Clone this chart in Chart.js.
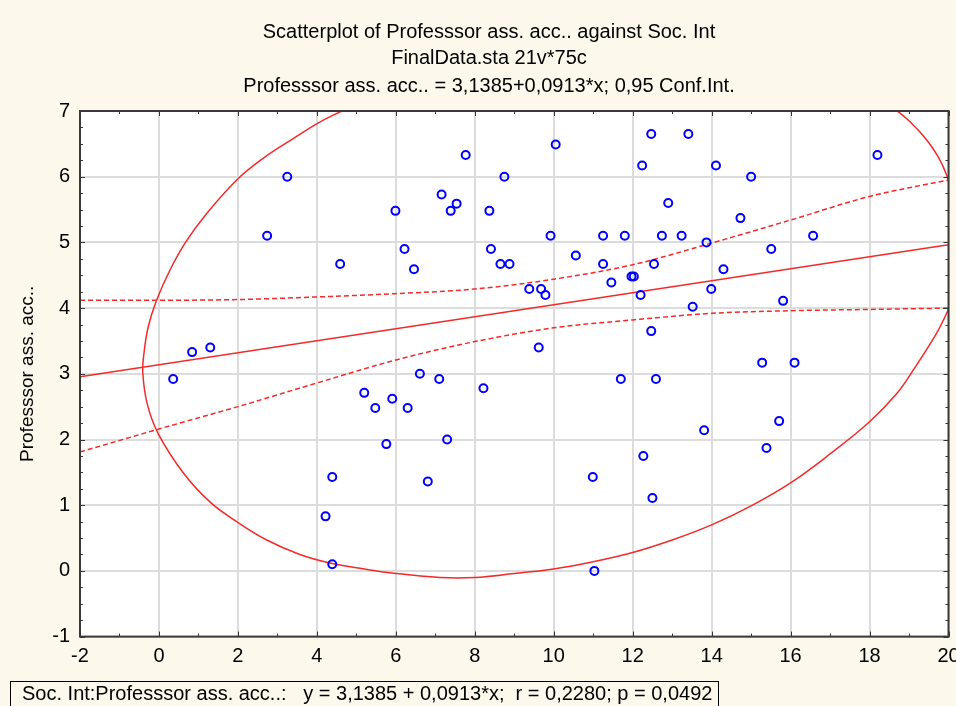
<!DOCTYPE html>
<html><head><meta charset="utf-8">
<script src="https://cdn.jsdelivr.net/npm/chart.js@4/dist/chart.umd.min.js"></script>
<style>html,body{margin:0;padding:0;background:#fdf8ec;overflow:hidden}#wrap{width:956px;height:706px;position:relative}</style>
</head><body><div id="wrap"><canvas id="c" width="956" height="706"></canvas></div>
<script>
// ---- Texts ----
const titleLines = [
  "Scatterplot of Professsor ass. acc.. against Soc. Int",
  "FinalData.sta 21v*75c",
  "Professsor ass. acc.. = 3,1385+0,0913*x; 0,95 Conf.Int."
];
const xAxisTitle = "Soc. Int";
const yAxisTitle = "Professsor ass. acc..";
const footerText = "Soc. Int:Professsor ass. acc..:   y = 3,1385 + 0,0913*x;  r = 0,2280; p = 0,0492";

// ---- Tick labels ----
const xTicks = [-2,0,2,4,6,8,10,12,14,16,18,20];
const yTicks = [-1,0,1,2,3,4,5,6,7];

// ---- Observations (Soc. Int, Professsor ass. acc..) ----
const socInt = [3.25,2.74,4.59,0.84,1.30,0.36,7.77,8.75,10.05,7.16,7.54,7.39,5.99,8.37,9.92,11.25,11.80,6.22,8.41,10.56,
  6.46,8.65,8.88,11.25,9.38,9.68,9.79,11.46,11.97,12.03,12.20,12.24,9.62,6.61,7.10,11.70,12.47,13.41,14.11,15.00,
  18.20,12.90,14.73,12.74,13.24,13.87,16.57,15.51,12.54,14.30,13.99,13.52,15.81,12.47,15.28,16.10,12.59,4.39,4.22,4.39,
  5.20,5.48,5.91,6.30,5.76,7.30,6.81,8.22,10.99,11.03,12.27,13.81,15.71,15.39,12.50];
const profAcc = [6.00,5.10,4.67,3.33,3.40,2.92,6.33,6.00,6.49,5.73,5.59,5.48,5.48,5.48,5.10,5.10,5.10,4.90,4.90,4.80,
  4.59,4.67,4.67,4.67,4.29,4.29,4.20,4.39,4.48,4.48,4.20,6.17,3.40,3.00,2.92,2.92,6.65,6.65,6.17,6.00,
  6.33,5.60,5.37,5.10,5.10,5.00,5.10,4.90,4.67,4.59,4.29,4.02,4.11,3.65,3.17,3.17,2.92,1.43,0.83,0.10,
  2.71,2.48,2.62,2.48,1.93,2.00,1.36,2.78,1.43,0.00,1.75,2.14,2.28,1.87,1.11];

// ---- Regression line (read at the x-axis ends) ----
const regX = [-2, 20];
const regY = [2.956, 4.965];

// ---- 0,95 confidence band ----
const bandX = [-2,0,2,4,6,8,10,12,14,16,18,20];
const bandUpper = [4.12,4.12,4.13,4.17,4.22,4.29,4.44,4.66,4.99,5.34,5.70,5.95];
const bandLower = [1.81,2.16,2.50,2.86,3.21,3.49,3.70,3.82,3.92,3.96,3.98,4.00];

// ---- Prediction ellipse, visible arcs ----
const ellipseAX = [5.20,4.63,4.04,3.40,2.64,1.97,1.21,0.66,0.28,-0.06,-0.27,-0.38,-0.41,-0.30,-0.02,0.62,1.29,1.97,2.73,3.57,4.33,5.09,6.00,7.12,8.00,9.00,10.00,11.00,12.00,13.00,14.00,15.00,16.00,17.00,18.00,18.69,19.11,19.70,19.99,20.20];
const ellipseAY = [7.17,7.00,6.82,6.58,6.28,5.95,5.44,4.99,4.58,4.12,3.72,3.31,3.02,2.55,2.09,1.49,1.05,0.75,0.47,0.25,0.12,0.04,-0.04,-0.10,-0.10,-0.04,0.03,0.14,0.28,0.47,0.70,0.99,1.34,1.78,2.27,2.70,3.06,3.62,3.97,4.30];
const ellipseBX = [18.26,18.64,19.02,19.45,19.74,19.95,20.10];
const ellipseBY = [7.20,7.03,6.84,6.56,6.30,6.03,5.75];

const pts = (xs, ys) => xs.map((x, i) => ({x: x, y: ys[i]}));
const RED = '#f22a2a';
const FONT = "'Liberation Sans', Arial, sans-serif";

const decorPlugin = {
  id: 'decor',
  beforeDraw(chart) {
    const {ctx, chartArea: a} = chart;
    ctx.save();
    ctx.fillStyle = '#fdf8ec';
    ctx.fillRect(0, 0, chart.width, chart.height);
    ctx.fillStyle = '#ffffff';
    ctx.fillRect(a.left, a.top, a.right - a.left, a.bottom - a.top);
    // titles
    ctx.fillStyle = '#000';
    ctx.font = "20px " + FONT;
    ctx.textAlign = 'center';
    ctx.textBaseline = 'middle';
    const ys = [32, 58.5, 86];
    titleLines.forEach((t, i) => ctx.fillText(t, 489, ys[i]));
    // footer box
    ctx.textAlign = 'left';
    ctx.fillText(footerText, 22, 694);
    ctx.strokeStyle = '#000';
    ctx.lineWidth = 1;
    ctx.strokeRect(10.5, 681.5, 708, 40);
    ctx.restore();
  },
  afterDraw(chart) {
    const {ctx, chartArea: a, scales} = chart;
    const xs = scales.x, ys = scales.y;
    ctx.save();
    ctx.strokeStyle = '#333';
    ctx.lineWidth = 1;
    ctx.beginPath();
    for (let v = xTicks[0]; v <= xTicks[xTicks.length - 1]; v += 1) {
      const px = Math.round(xs.getPixelForValue(v)) + 0.5;
      const len = (v % 2 === 0) ? 5 : 3;
      ctx.moveTo(px, a.bottom); ctx.lineTo(px, a.bottom - len);
      ctx.moveTo(px, a.top); ctx.lineTo(px, a.top + len);
    }
    for (let v = yTicks[0]; v <= yTicks[yTicks.length - 1] + 1e-9; v += 0.25) {
      const py = Math.round(ys.getPixelForValue(v)) + 0.5;
      const len = (Math.abs(v - Math.round(v)) < 1e-6) ? 5 : 3;
      ctx.moveTo(a.left, py); ctx.lineTo(a.left + len, py);
      ctx.moveTo(a.right, py); ctx.lineTo(a.right - len, py);
    }
    ctx.stroke();
    ctx.strokeStyle = '#3a3a3a';
    ctx.lineWidth = 2;
    ctx.strokeRect(a.left, a.top, a.right - a.left, a.bottom - a.top);
    ctx.restore();
  }
};

new Chart(document.getElementById('c'), {
  type: 'scatter',
  data: {
    datasets: [
      {label: 'obs', data: pts(socInt, profAcc), pointRadius: 4, pointHoverRadius: 4,
       borderColor: '#0000ff', backgroundColor: 'rgba(0,0,0,0)', borderWidth: 2, showLine: false},
      {label: 'reg', data: pts(regX, regY), showLine: true, pointRadius: 0, borderColor: RED, borderWidth: 1.5},
      {label: 'upper', data: pts(bandX, bandUpper), showLine: true, pointRadius: 0, borderColor: RED, borderWidth: 1.5,
       borderDash: [5, 3], cubicInterpolationMode: 'monotone'},
      {label: 'lower', data: pts(bandX, bandLower), showLine: true, pointRadius: 0, borderColor: RED, borderWidth: 1.5,
       borderDash: [5, 3], cubicInterpolationMode: 'monotone'},
      {label: 'ellA', data: pts(ellipseAX, ellipseAY), showLine: true, pointRadius: 0, borderColor: RED, borderWidth: 1.5, tension: 0.4},
      {label: 'ellB', data: pts(ellipseBX, ellipseBY), showLine: true, pointRadius: 0, borderColor: RED, borderWidth: 1.5, tension: 0.4}
    ]
  },
  options: {
    responsive: false,
    animation: false,
    layout: {padding: {left: 0, right: 7.5, top: 111, bottom: 0}},
    plugins: {legend: {display: false}, tooltip: {enabled: false}, title: {display: false}},
    scales: {
      x: {
        type: 'linear', min: -2, max: 20,
        afterBuildTicks: s => { s.ticks = xTicks.map(v => ({value: v})); },
        afterFit: s => { s.height = 69.4; s.paddingLeft = 0; s.paddingRight = 0; },
        grid: {color: '#dcdcdc', lineWidth: 2, drawTicks: false},
        border: {display: false},
        ticks: {color: '#000', padding: 7.5, font: {family: FONT, size: 20}, maxRotation: 0, autoSkip: false}
      },
      y: {
        type: 'linear', min: -1, max: 7,
        afterBuildTicks: s => { s.ticks = yTicks.map(v => ({value: v})); },
        afterFit: s => { s.width = 80; s.paddingTop = 0; s.paddingBottom = 0; },
        grid: {color: '#dcdcdc', lineWidth: 2, drawTicks: false},
        border: {display: false},
        title: {display: true, text: yAxisTitle, color: '#000', font: {family: FONT, size: 19}, padding: {top: 16, bottom: 0}},
        ticks: {color: '#000', padding: 10, font: {family: FONT, size: 20}, autoSkip: false}
      }
    }
  },
  plugins: [decorPlugin]
});
</script>
</body></html>
